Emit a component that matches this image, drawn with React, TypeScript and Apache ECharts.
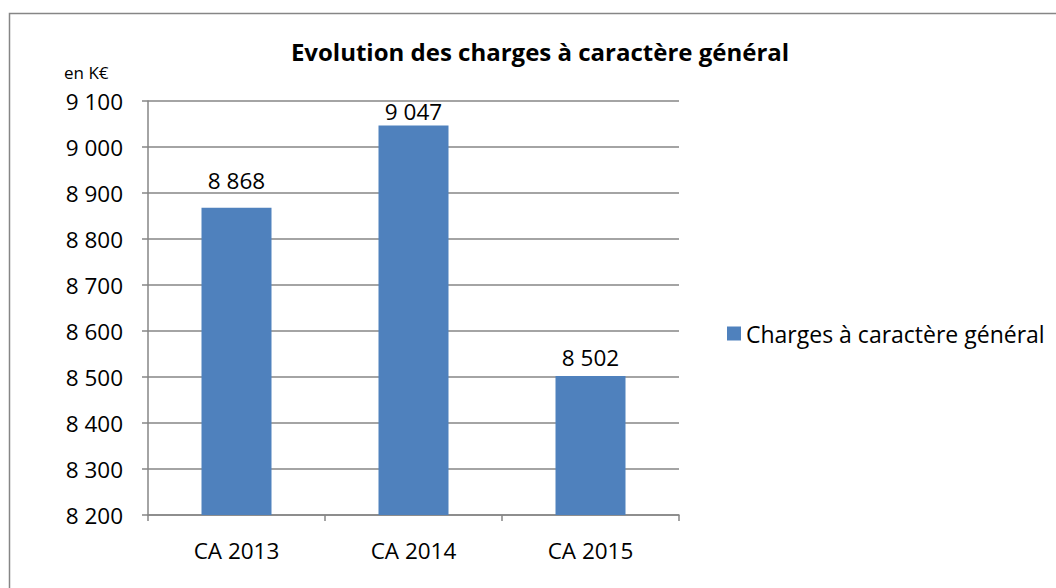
import React, { useEffect, useRef } from "react";
import * as echarts from "echarts";

const categories = ["CA 2013", "CA 2014", "CA 2015"];
const values = [8868, 9047, 8502];
const seriesName = "Charges à caractère général";
const titleText = "Evolution des charges à caractère général";
const unitText = "en K€";
const yMin = 8200;
const yMax = 9100;
const yStep = 100;

// label gap above each bar (px), as laid out in the reference
const labelGaps = [16, 2, 7];

const FONT = "'Open Sans', Lato, sans-serif";
const fmt = (v: number) => {
  const s = String(Math.round(v));
  return s.replace(/\B(?=(\d{3})+(?!\d))/g, " ");
};

export default function App() {
  const ref = useRef<HTMLDivElement>(null);
  useEffect(() => {
    document.body.style.margin = "0";
    const chart = echarts.init(ref.current!, null, { renderer: "svg" });
    chart.setOption({
      animation: false,
      backgroundColor: "#ffffff",
      textStyle: { fontFamily: FONT },
      graphic: [
        {
          type: "rect",
          shape: { x: 9.5, y: 13.5, width: 1200, height: 800 },
          style: { fill: "none", stroke: "#868686", lineWidth: 1.5 },
          silent: true,
        },
        {
          type: "text",
          x: 540,
          y: 51,
          style: {
            text: titleText,
            font: `bold 24px ${FONT}`,
            fill: "#000",
            textAlign: "center",
            textVerticalAlign: "middle",
          },
        },
        {
          type: "text",
          x: 64,
          y: 72,
          style: {
            text: unitText,
            font: `17px ${FONT}`,
            fill: "#000",
            textAlign: "left",
            textVerticalAlign: "middle",
          },
        },
      ],
      legend: {
        data: [seriesName],
        left: 722,
        top: 317,
        itemWidth: 14,
        itemHeight: 14,
        icon: "rect",
        textStyle: { fontFamily: FONT, fontSize: 23, color: "#000" },
      },
      grid: { left: 148, top: 101, right: 377, bottom: 73, containLabel: false },
      xAxis: {
        type: "category",
        data: categories,
        axisLine: { lineStyle: { color: "#868686", width: 1.5 } },
        axisTick: { show: true, alignWithLabel: false, length: 6, lineStyle: { color: "#868686", width: 1.5 } },
        axisLabel: { fontFamily: FONT, fontSize: 22.5, color: "#000", margin: 24 },
        splitLine: { show: false },
      },
      yAxis: {
        type: "value",
        min: yMin,
        max: yMax,
        interval: yStep,
        axisLine: { show: true, lineStyle: { color: "#868686", width: 1.5 } },
        axisTick: { show: true, length: 6, lineStyle: { color: "#868686", width: 1.5 } },
        axisLabel: { fontFamily: FONT, fontSize: 22.5, color: "#000", margin: 25, formatter: (v: number) => fmt(v) },
        splitLine: { show: true, lineStyle: { color: "#868686", width: 1.5 } },
      },
      series: [
        {
          name: seriesName,
          type: "bar",
          data: values.map((v, i) => ({ value: v, label: { distance: labelGaps[i] } })),
          barWidth: 70,
          itemStyle: { color: "#4F81BD" },
          label: {
            show: true,
            position: "top",
            fontFamily: FONT,
            fontSize: 22.5,
            color: "#000",
            formatter: (p: any) => fmt(p.value),
          },
        },
      ],
    });
    return () => chart.dispose();
  }, []);
  return <div ref={ref} style={{ width: 1056, height: 588 }} />;
}
